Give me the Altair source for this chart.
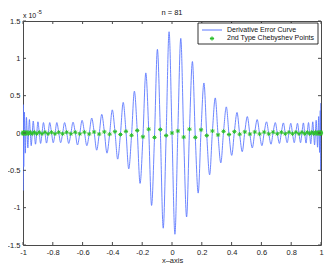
import altair as alt
import pandas as pd

# ---- data (error values in units of 1e-5) ----
ext_x = [-0.9998, -0.9983, -0.9952, -0.9906, -0.9844, -0.9768, -0.9676, -0.9569, -0.9448, -0.9312,
         -0.9162, -0.8998, -0.8819, -0.8627, -0.8422, -0.8204, -0.7973, -0.7730, -0.7475, -0.7209,
         -0.6932, -0.6644, -0.6344, -0.6035, -0.5716, -0.5388, -0.5055, -0.4714, -0.4364, -0.4008,
         -0.3645, -0.3276, -0.2903, -0.2525, -0.2143, -0.1758, -0.1370, -0.0980, -0.0589, -0.0196,
         0.0196, 0.0589, 0.0980, 0.1370, 0.1758, 0.2143, 0.2525, 0.2903, 0.3276, 0.3645,
         0.4008, 0.4364, 0.4714, 0.5055, 0.5388, 0.5716, 0.6035, 0.6344, 0.6644, 0.6932,
         0.7209, 0.7475, 0.7730, 0.7973, 0.8204, 0.8422, 0.8627, 0.8819, 0.8998, 0.9162,
         0.9312, 0.9448, 0.9569, 0.9676, 0.9768, 0.9844, 0.9906, 0.9952, 0.9983, 0.9998]
ext_y = [-0.77, 0.38, -0.45, 0.28, -0.27, 0.21, -0.20, 0.18, -0.17, 0.16,
         -0.15, 0.15, -0.14, 0.14, -0.135, 0.14, -0.13, 0.14, -0.13, 0.14,
         -0.14, 0.145, -0.16, 0.17, -0.17, 0.20, -0.23, 0.25, -0.27, 0.31,
         -0.35, 0.41, -0.48, 0.56, -0.675, 0.805, -0.97, 1.12, -1.275, 1.356,
         -1.356, 1.267, -1.125, 0.957, -0.805, 0.67, -0.56, 0.47, -0.40, 0.35,
         -0.30, 0.275, -0.25, 0.22, -0.20, 0.18, -0.17, 0.15, -0.15, 0.14,
         -0.14, 0.135, -0.13, 0.13, -0.13, 0.13, -0.13, 0.135, -0.135, 0.14,
         -0.145, 0.15, -0.16, 0.17, -0.19, 0.22, -0.26, 0.30, -0.50, 0.40]

node_x = [-1.0, -0.9992, -0.9969, -0.9931, -0.9877, -0.9808, -0.9724, -0.9625, -0.9511, -0.9382,
          -0.9239, -0.9081, -0.8910, -0.8725, -0.8526, -0.8315, -0.8090, -0.7853, -0.7604, -0.7343,
          -0.7071, -0.6788, -0.6494, -0.6191, -0.5878, -0.5556, -0.5225, -0.4886, -0.4540, -0.4187,
          -0.3827, -0.3461, -0.3090, -0.2714, -0.2334, -0.1951, -0.1564, -0.1175, -0.0785, -0.0393,
          0.0,
          0.0393, 0.0785, 0.1175, 0.1564, 0.1951, 0.2334, 0.2714, 0.3090, 0.3461, 0.3827,
          0.4187, 0.4540, 0.4886, 0.5225, 0.5556, 0.5878, 0.6191, 0.6494, 0.6788, 0.7071,
          0.7343, 0.7604, 0.7853, 0.8090, 0.8315, 0.8526, 0.8725, 0.8910, 0.9081, 0.9239,
          0.9382, 0.9511, 0.9625, 0.9724, 0.9808, 0.9877, 0.9931, 0.9969, 0.9992, 1.0]
node_y = [0.0, -0.01, 0.01, -0.01, 0.01, -0.01, 0.01, -0.01, 0.01, -0.01,
          0.01, -0.01, 0.01, -0.01, 0.01, -0.01, 0.01, -0.01, 0.01, -0.01,
          0.01, -0.01, 0.01, -0.011, 0.011, -0.012, 0.013, -0.014, 0.015, -0.016,
          0.018, -0.02, 0.022, -0.031, 0.034, -0.051, 0.051, -0.059, 0.047, -0.034,
          0.0,
          0.027, -0.055, 0.051, -0.059, 0.043, -0.034, 0.027, -0.025, 0.022, -0.02,
          0.018, -0.016, 0.015, -0.014, 0.013, -0.012, 0.012, -0.011, 0.011, -0.01,
          0.01, -0.01, 0.01, -0.01, 0.01, -0.01, 0.01, -0.01, 0.01, -0.01,
          0.01, -0.01, 0.01, -0.01, 0.01, -0.01, 0.01, -0.01, 0.01, 0.0]

x_ticks = [-1, -0.8, -0.6, -0.4, -0.2, 0, 0.2, 0.4, 0.6, 0.8, 1]
y_ticks = [-1.5, -1, -0.5, 0, 0.5, 1, 1.5]

title_text = "n = 81"
x_title = "x\u2013axis"
legend_labels = ["Derivative Error Curve", "2nd Type Chebyshev Points"]

# ---- styling ----
W, H = 298, 224
FONT = "Liberation Sans"
BLUE = "#5c78ff"
GREEN = "#2cbf2c"
AX = "#4a4a4a"
ASTERISK = "M-1,0L1,0M0,-1L0,1M-0.7,-0.7L0.7,0.7M-0.7,0.7L0.7,-0.7"
LABEL_EXPR = "replace(datum.label, '\u2212', '-')"

curve = pd.DataFrame({"x": node_x + ext_x, "y": node_y + ext_y}).sort_values("x")
nodes = pd.DataFrame({"x": node_x, "y": node_y})
xt = pd.DataFrame({"x": x_ticks})
yt = pd.DataFrame({"y": y_ticks})
one = pd.DataFrame({"a": [0]})

xs = alt.Scale(domain=[-1, 1], nice=False, zero=False)
ys = alt.Scale(domain=[-1.5, 1.5], nice=False, zero=False)

XAXIS = alt.Axis(values=x_ticks, format="~g", labelExpr=LABEL_EXPR, title=x_title, ticks=False,
                 domain=False, grid=False, labelFlush=False, labelPadding=3, titlePadding=1)
YAXIS = alt.Axis(values=y_ticks, format="~g", labelExpr=LABEL_EXPR, title=None, ticks=False,
                 domain=False, grid=False, labelFlush=False, labelPadding=3)


def xenc():
    return alt.X("x:Q", scale=xs, axis=XAXIS, title=x_title)


def yenc():
    return alt.Y("y:Q", scale=ys, axis=YAXIS, title=None)


line = alt.Chart(curve).mark_line(color=BLUE, strokeWidth=0.9, interpolate="monotone", clip=True).encode(
    x=xenc(), y=yenc())

pts = alt.Chart(nodes).mark_point(shape=ASTERISK, filled=False, size=18, color=GREEN,
                                  strokeWidth=1, opacity=1).encode(x=xenc(), y=yenc())

tb = alt.Chart(xt).mark_rule(color=AX, strokeWidth=1).encode(
    x=xenc(), y=alt.value(H), y2=alt.value(H - 3))
tt = alt.Chart(xt).mark_rule(color=AX, strokeWidth=1).encode(
    x=xenc(), y=alt.value(0), y2=alt.value(3))
tl = alt.Chart(yt).mark_rule(color=AX, strokeWidth=1).encode(
    y=yenc(), x=alt.value(0), x2=alt.value(3))
tr = alt.Chart(yt).mark_rule(color=AX, strokeWidth=1).encode(
    y=yenc(), x=alt.value(W), x2=alt.value(W - 3))

# legend
LB_L, LB_R, LB_T, LB_B = 175, 295, 2, 23
box = alt.Chart(one).mark_rect(fill="white", stroke="black", strokeWidth=0.8).encode(
    x=alt.value(LB_L), x2=alt.value(LB_R), y=alt.value(LB_T), y2=alt.value(LB_B))
lg_line = alt.Chart(one).mark_rule(color=BLUE, strokeWidth=1).encode(
    x=alt.value(LB_L + 4), x2=alt.value(LB_L + 24), y=alt.value(LB_T + 7))
lg_pt = alt.Chart(one).mark_point(shape=ASTERISK, filled=False, size=18, color=GREEN, strokeWidth=1,
                                  opacity=1).encode(
    x=alt.value(LB_L + 14), y=alt.value(LB_T + 15.5))
lg_t1 = alt.Chart(one).mark_text(align="left", baseline="middle", font=FONT, fontSize=7, color="#111").encode(
    x=alt.value(LB_L + 29), y=alt.value(LB_T + 6.5), text=alt.value(legend_labels[0]))
lg_t2 = alt.Chart(one).mark_text(align="left", baseline="middle", font=FONT, fontSize=7, color="#111").encode(
    x=alt.value(LB_L + 29), y=alt.value(LB_T + 15), text=alt.value(legend_labels[1]))

# annotations
ttl = alt.Chart(one).mark_text(align="center", baseline="bottom", font=FONT, fontSize=7.5, color="#111").encode(
    x=alt.value(W / 2), y=alt.value(-4), text=alt.value(title_text))
mult = alt.Chart(one).mark_text(align="left", baseline="bottom", font=FONT, fontSize=7, color="#111").encode(
    x=alt.value(0), y=alt.value(-2), text=alt.value("x 10"))
expo = alt.Chart(one).mark_text(align="left", baseline="bottom", font=FONT, fontSize=5.5, color="#111").encode(
    x=alt.value(14), y=alt.value(-6), text=alt.value("-5"))

chart = alt.layer(line, pts, tb, tt, tl, tr, box, lg_line, lg_pt, lg_t1, lg_t2, ttl, mult, expo).properties(
    width=W, height=H,
    autosize=alt.AutoSizeParams(type="none"),
    padding={"left": 15, "top": 13, "right": 4, "bottom": 22},
    background="white",
).configure_view(stroke=AX, strokeWidth=1).configure_axis(
    labelFont=FONT, labelFontSize=7.5, labelColor="#222", titleFont=FONT, titleFontSize=7.5,
    titleColor="#222", titleFontWeight="normal")

chart.save("out.html", embed_options={"renderer": "svg", "actions": False})
